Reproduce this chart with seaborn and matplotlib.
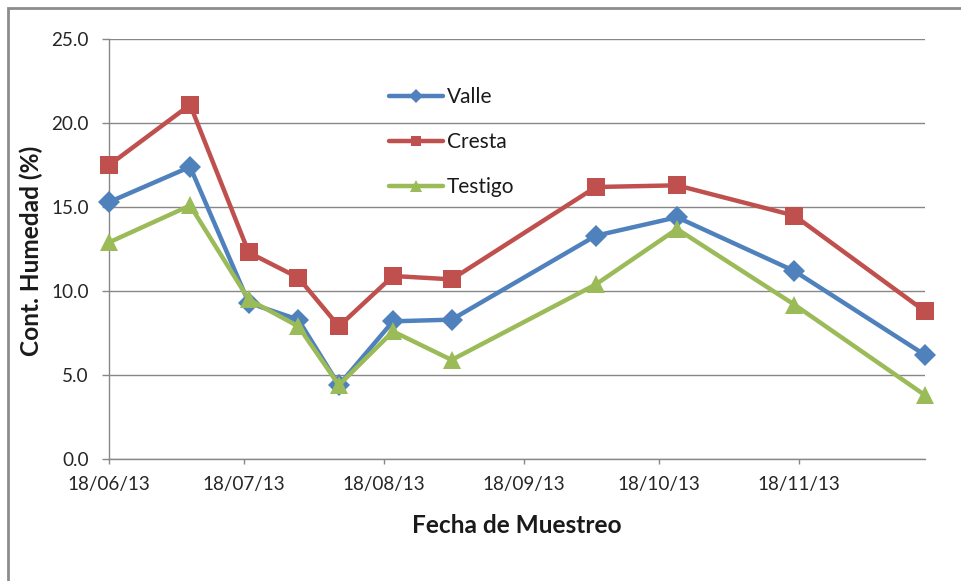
import matplotlib
matplotlib.use('Agg')
import matplotlib.pyplot as plt
import matplotlib.dates as mdates
from matplotlib.patches import Rectangle
import seaborn as sns
import pandas as pd

# sampling dates and moisture content (%) per plot position
fechas = ['2013-06-18', '2013-07-06', '2013-07-19', '2013-07-30', '2013-08-08', '2013-08-20',
          '2013-09-02', '2013-10-04', '2013-10-22', '2013-11-17', '2013-12-16']
valle = [15.3, 17.4, 9.3, 8.3, 4.4, 8.2, 8.3, 13.3, 14.4, 11.2, 6.2]
cresta = [17.5, 21.1, 12.3, 10.8, 7.9, 10.9, 10.7, 16.2, 16.3, 14.5, 8.8]
testigo = [12.9, 15.1, 9.5, 7.9, 4.4, 7.6, 5.9, 10.4, 13.7, 9.2, 3.8]

series = ['Valle', 'Cresta', 'Testigo']
colores = {'Valle': '#4F81BD', 'Cresta': '#C0504D', 'Testigo': '#9BBB59'}
marcadores = {'Valle': 'D', 'Cresta': 's', 'Testigo': '^'}
tam_marcador = {'Valle': 11.5, 'Cresta': 13, 'Testigo': 13.5}

df = pd.DataFrame({'fecha': pd.to_datetime(fechas), 'Valle': valle, 'Cresta': cresta, 'Testigo': testigo})
df_long = df.melt(id_vars='fecha', var_name='serie', value_name='humedad')

sns.set_style('white')
plt.rcParams['font.family'] = ['Lato', 'DejaVu Sans']

fig = plt.figure(figsize=(9.61, 5.81), dpi=100)
ax = fig.add_axes([0.1134, 0.2100, 0.8491, 0.7224])

for s in series:
    d = df_long[df_long['serie'] == s]
    sns.lineplot(data=d, x='fecha', y='humedad', ax=ax, color=colores[s], marker=marcadores[s],
                 markersize=tam_marcador[s], markeredgewidth=0, linewidth=3.2, label=s,
                 clip_on=False, zorder=3)

ax.set_ylim(0, 25)
ax.set_yticks([0, 5, 10, 15, 20, 25])
ax.set_yticklabels(['%.1f' % v for v in [0, 5, 10, 15, 20, 25]])
ax.set_xlim(pd.Timestamp('2013-06-18'), pd.Timestamp('2013-12-16'))
ax.xaxis.set_major_locator(mdates.MonthLocator(bymonthday=18))
ax.xaxis.set_major_formatter(mdates.DateFormatter('%d/%m/%y'))

ax.grid(axis='y', color='#878787', linewidth=1)
ax.set_axisbelow(True)
for side in ['top', 'right']:
    ax.spines[side].set_visible(False)
for side in ['left', 'bottom']:
    ax.spines[side].set_color('#878787')
    ax.spines[side].set_linewidth(1)
ax.tick_params(axis='both', which='major', width=1, color='#878787',
               labelsize=13.6, labelcolor='#262626', direction='out')
ax.tick_params(axis='x', bottom=True, length=3.6, pad=8.5)
ax.tick_params(axis='y', left=True, length=5, pad=9.5)

ax.set_xlabel('Fecha de Muestreo', fontsize=17.6, fontweight='bold', color='#1a1a1a')
ax.set_ylabel('Cont. Humedad (%)', fontsize=17.6, fontweight='bold', color='#1a1a1a')
ax.xaxis.set_label_coords(0.5, -0.131)
ax.yaxis.set_label_coords(-0.0805, 0.496)

leg = ax.legend(loc='upper left', bbox_to_anchor=(0.343, 0.886), frameon=False, fontsize=15,
                handlelength=2.6, labelspacing=1.2, handletextpad=0.2, markerscale=0.6,
                borderpad=0, borderaxespad=0)
for t in leg.get_texts():
    t.set_color('#1a1a1a')

# outer chart-area border as in the original spreadsheet export
fig.add_artist(Rectangle((8 / 961, -0.05), 1.1, 1 - 8 / 581 + 0.05, transform=fig.transFigure,
                         fill=False, edgecolor='#8c8c8c', linewidth=2))

fig.savefig('out.png', dpi=100)
